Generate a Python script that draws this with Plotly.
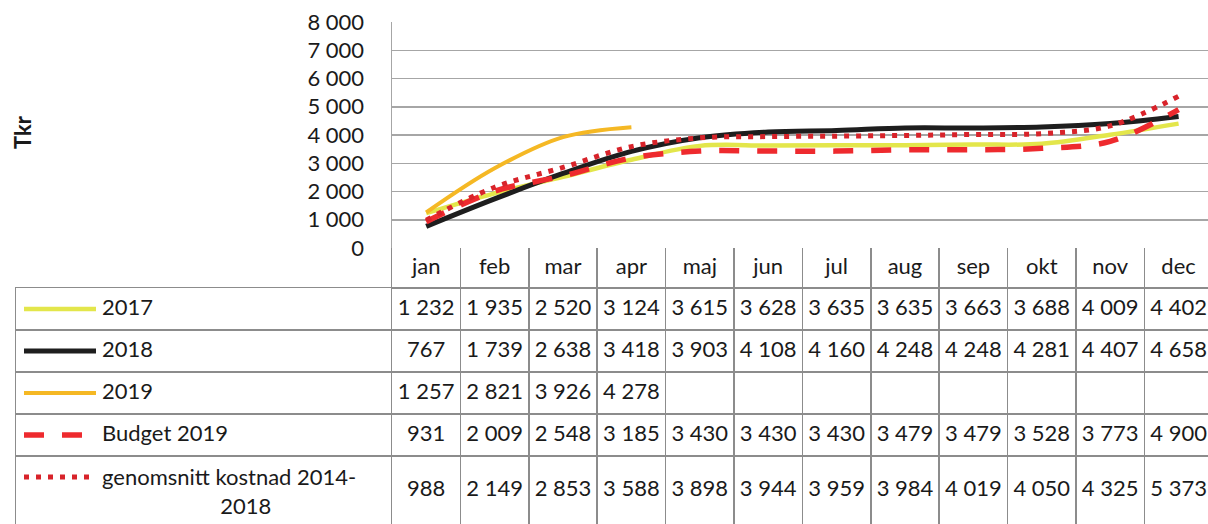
import plotly.graph_objects as go

months = ["jan", "feb", "mar", "apr", "maj", "jun", "jul", "aug", "sep", "okt", "nov", "dec"]
series_names = ["2017", "2018", "2019", "Budget 2019", "genomsnitt kostnad 2014-2018"]
table_labels = ["2017", "2018", "2019", "Budget 2019", "genomsnitt kostnad 2014-<br>2018"]
v2017 = [1232, 1935, 2520, 3124, 3615, 3628, 3635, 3635, 3663, 3688, 4009, 4402]
v2018 = [767, 1739, 2638, 3418, 3903, 4108, 4160, 4248, 4248, 4281, 4407, 4658]
v2019 = [1257, 2821, 3926, 4278]
vbudget = [931, 2009, 2548, 3185, 3430, 3430, 3430, 3479, 3479, 3528, 3773, 4900]
vavg = [988, 2149, 2853, 3588, 3898, 3944, 3959, 3984, 4019, 4050, 4325, 5373]
yticks = [0, 1000, 2000, 3000, 4000, 5000, 6000, 7000, 8000]

W, H = 1208, 524
FONT = "Lato"
FS = 22
TXT = "#1A1A1A"
GRID = "#A6A6A6"
TLINE = "#8C8C8C"
NB = "\u00a0"

styles = [
    dict(color="#E3E64B", width=4.5, dash="solid"),
    dict(color="#1E1E1E", width=5, dash="solid"),
    dict(color="#F5B824", width=4, dash="solid"),
    dict(color="#EE2A2E", width=5.5, dash="20px,18px"),
    dict(color="#D8232A", width=5, dash="5px,7px"),
]
values = [v2017, v2018, v2019, vbudget, vavg]

# table geometry (pixels): header row + 5 data rows, last row holds two text lines
PLOT_TOP, PLOT_BOT = 22, 248
LEG_LEFT, TAB_LEFT = 16, 392
ROW_H = [40, 42, 42, 42, 42, 68]
TAB_H = H - PLOT_BOT
bounds = []
acc = 0
centers = []
for h in ROW_H:
    centers.append(acc + h / 2)
    acc += h
    bounds.append(acc)
row_lines = bounds[:-1]            # last row runs past the picture
header_c = centers[0]
row_c = centers[1:]
leg_off = ROW_H[0]                 # legend column starts under the header row
leg_lines = [b - leg_off for b in row_lines]
leg_row_c = [21 + 42 * i for i in range(5)]

fig = go.Figure()

# main chart lines
for name, vals, st in zip(series_names, values, styles):
    fig.add_trace(go.Scatter(
        x=months[:len(vals)], y=vals, name=name, mode="lines",
        line=dict(color=st["color"], width=st["width"], dash=st["dash"], shape="spline"),
        showlegend=False, xaxis="x", yaxis="y",
    ))

def fmt(v):
    return f"{v:,}".replace(",", NB)

# header (months)
fig.add_trace(go.Scatter(
    x=months, y=[header_c] * 12, text=months, mode="text",
    textfont=dict(family=FONT, size=FS, color=TXT), hoverinfo="skip",
    showlegend=False, xaxis="x2", yaxis="y2", cliponaxis=False,
))
# table values
for vals, yc in zip(values, row_c):
    fig.add_trace(go.Scatter(
        x=months[:len(vals)], y=[yc] * len(vals), text=[fmt(v) for v in vals], mode="text",
        textfont=dict(family=FONT, size=FS, color=TXT), hoverinfo="skip",
        showlegend=False, xaxis="x2", yaxis="y2", cliponaxis=False,
    ))

# legend column: glyphs + labels
GLX0, GLX1, LBX = 8, 80, 86
for name, st, yc in zip(series_names, styles, leg_row_c):
    fig.add_trace(go.Scatter(
        x=[GLX0, GLX1], y=[yc, yc], mode="lines",
        line=dict(color=st["color"], width=st["width"], dash=st["dash"]),
        showlegend=False, hoverinfo="skip", xaxis="x3", yaxis="y3",
    ))
lab_text = []
lab_y = []
for lab, yc in zip(table_labels, leg_row_c):
    if "<br>" in lab:
        first, second = lab.split("<br>")
        lab_text.append(first + "<br>" + NB * 21 + second)
        lab_y.append(yc + 17)
    else:
        lab_text.append(lab)
        lab_y.append(yc)
fig.add_trace(go.Scatter(
    x=[LBX] * 5, y=lab_y, text=lab_text, mode="text", textposition="middle right",
    textfont=dict(family=FONT, size=FS, color=TXT), hoverinfo="skip",
    showlegend=False, xaxis="x3", yaxis="y3", cliponaxis=False,
))

XR = [-0.5, 11.43]
fig.update_layout(
    width=W, height=H,
    margin=dict(l=0, r=0, t=0, b=0, autoexpand=False),
    paper_bgcolor="white", plot_bgcolor="rgba(0,0,0,0)",
    separators=", ",
    showlegend=False,
    font=dict(family=FONT, size=FS, color=TXT),
    xaxis=dict(
        domain=[TAB_LEFT / W, 1], type="category", categoryorder="array", categoryarray=months,
        range=XR, showticklabels=False, showgrid=False, zeroline=False, showline=False,
        automargin=False, anchor="y",
    ),
    yaxis=dict(
        domain=[1 - PLOT_BOT / H, 1 - PLOT_TOP / H], range=[0, 8000], tickvals=yticks, tickformat=",d",
        showgrid=True, gridcolor=GRID, gridwidth=1.5, zeroline=False,
        showline=True, linecolor=GRID, linewidth=1.5,
        ticks="outside", ticklen=22, tickcolor="rgba(0,0,0,0)",
        tickfont=dict(family=FONT, size=FS, color=TXT), automargin=False, anchor="x",
    ),
    xaxis2=dict(
        domain=[TAB_LEFT / W, 1], type="category", categoryorder="array", categoryarray=months,
        range=XR, tickson="boundaries", showgrid=True, gridcolor=TLINE, gridwidth=1.5,
        showticklabels=False, ticks="", zeroline=False, showline=False, automargin=False, anchor="y2",
    ),
    yaxis2=dict(
        domain=[0, 1 - PLOT_BOT / H], range=[TAB_H, 0], tickvals=row_lines,
        showgrid=True, gridcolor=TLINE, gridwidth=1.5, showticklabels=False, ticks="",
        zeroline=False, showline=True, linecolor=TLINE, linewidth=1.5, automargin=False, anchor="x2",
    ),
    xaxis3=dict(
        domain=[LEG_LEFT / W, TAB_LEFT / W], range=[0, TAB_LEFT - LEG_LEFT],
        showgrid=False, showticklabels=False, ticks="", zeroline=False,
        showline=True, side="top", linecolor=TLINE, linewidth=1.5, automargin=False, anchor="y3",
    ),
    yaxis3=dict(
        domain=[0, 1 - (PLOT_BOT + leg_off) / H], range=[TAB_H - leg_off, 0], tickvals=leg_lines,
        showgrid=True, gridcolor=TLINE, gridwidth=1.5, showticklabels=False, ticks="",
        zeroline=False, showline=True, linecolor=TLINE, linewidth=1.5, automargin=False, anchor="x3",
    ),
    annotations=[dict(
        text="<b>Tkr</b>", xref="paper", yref="paper", x=22 / W, y=1 - 132 / H,
        textangle=-90, showarrow=False, font=dict(family=FONT, size=FS, color=TXT),
        xanchor="center", yanchor="middle",
    )],
)

fig.write_html(
    "out.html",
    config={"displayModeBar": False, "staticPlot": True},
    post_script="document.body.style.margin='0';document.body.style.overflow='hidden';",
)
